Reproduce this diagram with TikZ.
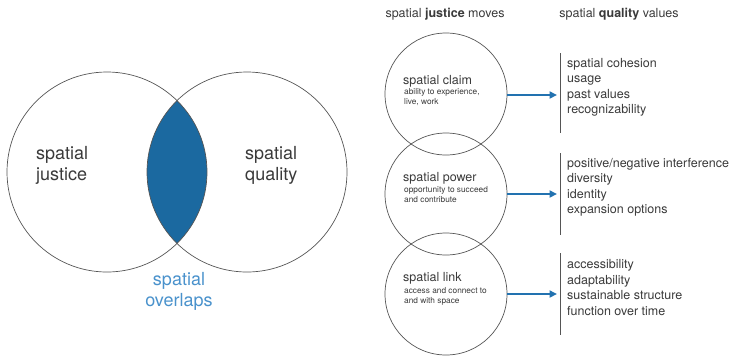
\documentclass[tikz,border=0pt]{standalone}
\usepackage{fontspec}
\setmainfont{TeX Gyre Heros}
\usetikzlibrary{arrows.meta}
\definecolor{txt}{HTML}{3A3A3A}
\definecolor{lens}{HTML}{1B69A0}
\definecolor{lblue}{HTML}{4A92CC}
\definecolor{arr}{HTML}{2272B0}
\definecolor{ring}{HTML}{555555}
\begin{document}
\begin{tikzpicture}[x=1pt,y=-1pt,
  bigtxt/.style={text=txt, align=left, font=\fontsize{18}{21}\selectfont, inner sep=0pt},
  head/.style={text=txt, font=\fontsize{12.5}{15}\selectfont, inner sep=0pt},
  move/.style={circle, draw=ring, line width=0.7pt, minimum size=122pt, inner sep=0pt},
  mtitle/.style={text=txt, anchor=west, font=\fontsize{12.5}{15}\selectfont, inner sep=0pt},
  msub/.style={text=txt, anchor=north west, align=left, font=\fontsize{8.3}{10}\selectfont, inner sep=0pt},
  vals/.style={text=txt, anchor=west, align=left, font=\fontsize{12.5}{15.5}\selectfont, inner sep=0pt},
  bar/.style={draw=ring, line width=0.8pt},
  link/.style={draw=arr, line width=2.2pt, -{Triangle[length=7.5pt,width=7pt]}}]
\useasboundingbox (0,0) rectangle (735,357);
% Venn diagram
\begin{scope}
  \clip (107,172) circle[radius=100pt];
  \fill[lens] (247,172) circle[radius=100pt];
\end{scope}
\node[circle, draw=ring, line width=0.7pt, minimum size=200pt, inner sep=0pt] (L) at (107,172) {};
\node[circle, draw=ring, line width=0.7pt, minimum size=200pt, inner sep=0pt] (R) at (247,172) {};
\node[bigtxt, anchor=west] (lj) at (36,165) {spatial\\justice};
\node[bigtxt, anchor=west] (rq) at (245,165) {spatial\\quality};
\node[bigtxt, align=center, text=lblue] (ov) at (179,291) {spatial\\overlaps};
% headers
\node[head] (h1) at (445,14) {spatial \textbf{justice} moves};
\node[head] (h2) at (619,14) {spatial \textbf{quality} values};
% moves
\node[move] (c1) at (446,94) {};
\node[move] (c2) at (446,194) {};
\node[move] (c3) at (446,294) {};
\node[mtitle] (t1) at (403,81) {spatial claim};
\node[msub] (s1) at (404,88) {ability to experience,\\live, work};
\node[mtitle] (t2) at (403,178) {spatial power};
\node[msub] (s2) at (404,186) {opportunity to succeed\\and contribute};
\node[mtitle] (t3) at (403,278) {spatial link};
\node[msub] (s3) at (404,287) {access and connect to\\and with space};
% bars
\coordinate (b1t) at (560,53); \coordinate (b1b) at (560,133);
\coordinate (b2t) at (560,153); \coordinate (b2b) at (560,235);
\coordinate (b3t) at (560,253); \coordinate (b3b) at (560,335);
\draw[bar] (b1t) -- (b1b);
\draw[bar] (b2t) -- (b2b);
\draw[bar] (b3t) -- (b3b);
% arrows
\coordinate (a1) at (557,95);
\coordinate (a2) at (557,194);
\coordinate (a3) at (557,294);
\draw[link] (c1.east |- a1) -- (a1);
\draw[link] (c2.east) -- (a2);
\draw[link] (c3.east) -- (a3);
% values
\node[vals] (v1) at (567,87.5) {spatial cohesion\\usage\\past values\\recognizability};
\node[vals] (v2) at (567,187.5) {positive/negative interference\\diversity\\identity\\expansion options};
\node[vals] (v3) at (567,287.5) {accessibility\\adaptability\\sustainable structure\\function over time};
\end{tikzpicture}
\end{document}
